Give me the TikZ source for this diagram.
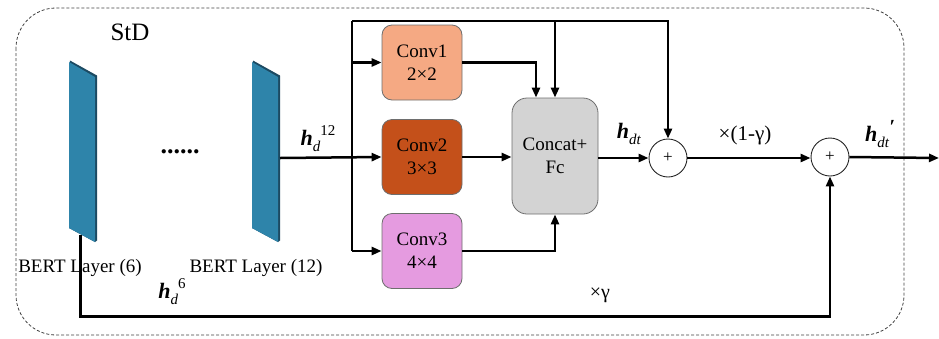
\documentclass[tikz,border=0pt]{standalone}
\usepackage{fontspec}
\IfFontExistsTF{LiberationSerif-Regular.ttf}{%
\setmainfont{LiberationSerif}[Extension=.ttf,UprightFont=*-Regular,BoldFont=*-Bold,ItalicFont=*-Italic,BoldItalicFont=*-BoldItalic]}{%
\setmainfont{Latin Modern Roman}}
\usetikzlibrary{arrows.meta,calc}
\definecolor{panelf}{HTML}{2E84AA}
\definecolor{paneld}{HTML}{1C4A62}
\definecolor{cA}{HTML}{F5A983}
\definecolor{cB}{HTML}{C4501A}
\definecolor{cC}{HTML}{E59BE0}
\definecolor{cD}{HTML}{D3D3D3}
\definecolor{bordr}{HTML}{6E6E6E}
\newcommand{\hv}{\textbf{\textit{h}}}
\newcommand{\lab}[2]{\hv\raisebox{-0.3em}{\fontsize{15}{15}\selectfont\textit{#1}}\raisebox{0.42em}{\fontsize{15}{15}\selectfont #2}}
\begin{document}
\begin{tikzpicture}[x=1pt,y=-1pt,
  wire/.style={line width=2.5pt,black},
  arr/.style={wire,-{Triangle[length=10pt,width=8pt]}},
  convbox/.style={draw=bordr,line width=0.8pt,rounded corners=10pt,minimum width=80pt,minimum height=75pt,align=center,font=\fontsize{19}{23}\selectfont,inner sep=0pt},
  plusnode/.style={circle,draw=black!85,line width=0.9pt,minimum size=38pt,inner sep=0pt,fill=white,font=\fontsize{17}{17}\selectfont},
  txt/.style={inner sep=0pt,font=\fontsize{19}{22}\selectfont},
  hlab/.style={inner sep=0pt,font=\fontsize{22}{24}\selectfont}]
\useasboundingbox (0,0) rectangle (939,338);
% frame
\draw[dashed,dash pattern=on 3pt off 2pt,line width=0.8pt,black!75,rounded corners=40pt] (16,8) rectangle (904,335);
\node[inner sep=0pt,font=\fontsize{25}{27}\selectfont] (std) at (130,32) {StD};
% panels
\foreach \px/\nm in {69/L6,252/L12}{
  \fill[paneld] (\px+1,60.5) -- (\px+28,75.5) -- (\px+28,240.5) -- (\px+26,242) -- (\px,228) -- cycle;
  \fill[panelf] (\px,62) -- (\px+26,77) -- (\px+26,242) -- (\px,228) -- cycle;
}
\coordinate (L6b) at (80.5,235);
\coordinate (L12r) at (280,158);
\node[inner sep=0pt,font=\bfseries\fontsize{26}{26}\selectfont] (dots) at (180,152) {......};
\node[txt] (b6) at (80,268) {BERT Layer (6)};
\node[txt] (b12) at (256,268) {BERT Layer (12)};
% conv boxes
\node[convbox,fill=cA] (c1) at (422,62.5) {Conv1\\2×2};
\node[convbox,fill=cB] (c2) at (422,157) {Conv2\\3×3};
\node[convbox,fill=cC] (c3) at (422,251) {Conv3\\4×4};
\node[convbox,fill=cD,rounded corners=15pt,minimum width=86pt,minimum height=116pt] (cc) at (555,156) {Concat+\\Fc};
\node[plusnode] (p1) at (668,158) {+};
\node[plusnode] (p2) at (830,157) {+};
\coordinate (bt) at (352,21);
\coordinate (bb) at (352,251);
\coordinate (bot) at (0,316.5);
\coordinate (out) at (939,158);
% connectors
\draw[arr] (L12r) -- (c2.west);
\draw[wire] (bb) -- (bt);
\draw[arr] (c1.west -| bt) -- (c1.west);
\draw[arr] (bb) -- (c3.west);
\draw[arr] (bt) -| (p1.north);
\draw[arr] (bt -| cc.north) -- (cc.north);
\draw[arr] (c1.east) -| ($(cc.north)+(-19,0)$);
\draw[arr] (c2.east) -- (c2.east -| cc.west);
\draw[arr] (c3.east) -| (cc.south);
\draw[arr] (cc.east |- p1.west) -- (p1.west);
\draw[arr] (p1.east) -- (p2.west |- p1.east);
\draw[arr] (p2.east) -- (out);
\draw[arr] (L6b) -- (L6b |- bot) -| (p2.south);
% labels
\node[hlab] (l12) at (318,139) {\lab{d}{12}};
\node[hlab] (l6) at (172,292) {\lab{d}{6}};
\node[hlab] (ldt) at (629,134) {\hv\raisebox{-0.3em}{\fontsize{15}{15}\selectfont\textit{dt}}};
\node[hlab] (ldtp) at (880,134) {\hv\raisebox{-0.3em}{\fontsize{15}{15}\selectfont\textit{dt}}\raisebox{0.35em}{\fontsize{20}{20}\selectfont\textbf{\textit{\char"2032}}}};
\node[txt,font=\fontsize{21}{22}\selectfont] (g1) at (745,135) {×(1-γ)};
\node[txt,font=\fontsize{20}{22}\selectfont] (g2) at (600,295) {×γ};
\end{tikzpicture}
\end{document}
